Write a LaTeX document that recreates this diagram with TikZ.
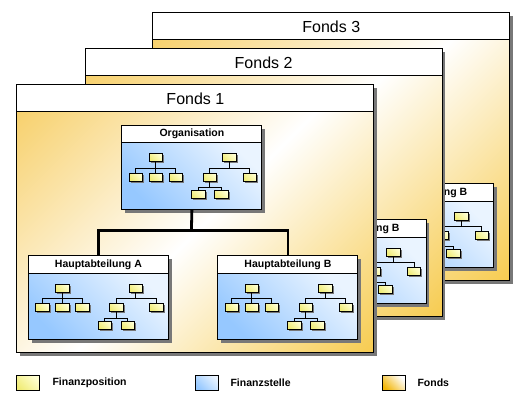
\documentclass[tikz,border=0pt]{standalone}
\usepackage{fontspec}
\setmainfont{Liberation Sans}
\usetikzlibrary{shadows}
\definecolor{fA}{RGB}{244,190,50}
\definecolor{fB}{RGB}{243,182,8}
\definecolor{bL}{RGB}{234,244,255}
\definecolor{bD}{RGB}{150,200,255}
\definecolor{yL}{RGB}{255,255,210}
\definecolor{yD}{RGB}{240,236,120}
\definecolor{shd}{RGB}{120,120,120}
\pgfdeclarehorizontalshading{fondsshade}{100bp}{color(0bp)=(fA); color(50bp)=(white); color(100bp)=(fB)}
\tikzset{
  fondsbody/.style={draw, line width=1pt, shading=fondsshade, shading angle=-45,
    minimum width=357pt, minimum height=241pt, inner sep=0pt, anchor=north west},
  fondshead/.style={draw, line width=1pt, fill=white, minimum width=357pt,
    minimum height=27pt, inner sep=0pt, anchor=north west, font=\fontsize{16}{18}\selectfont},
  fondsshadow/.style={fill=shd, minimum width=357pt, minimum height=268pt, inner sep=0pt, anchor=north west},
  abtbody/.style={draw, line width=1pt, left color=bL, right color=bD, shading angle=-45,
    minimum width=140pt, minimum height=66.5pt, inner sep=0pt, anchor=north west},
  abthead/.style={draw, line width=1pt, fill=white, minimum width=140pt,
    minimum height=17.5pt, inner sep=0pt, anchor=north west, font=\bfseries\fontsize{10.5}{12}\selectfont},
  abtshadow/.style={fill=shd, minimum width=140pt, minimum height=84pt, inner sep=0pt, anchor=north west},
  sbox/.style={draw, line width=0.8pt, left color=yL, right color=yD, shading angle=-45,
    minimum width=13.5pt, minimum height=8pt, inner sep=0pt,
    drop shadow={shadow xshift=1.5pt, shadow yshift=-1.5pt, fill=shd, opacity=1}},
  tline/.style={draw, line width=1pt},
  conn/.style={draw, line width=2.8pt, line join=miter},
  legbox/.style={draw, line width=1pt, minimum width=23pt, minimum height=15.4pt, inner sep=0pt},
  legtext/.style={anchor=west, inner sep=0pt, font=\bfseries\fontsize{10.5}{12}\selectfont},
}
\newcommand\minichart[1]{%
  \node[sbox] (#1a) at (34.5,33) {};
  \node[sbox] (#1a1) at (14.5,52.3) {};
  \node[sbox] (#1a2) at (34.5,52.3) {};
  \node[sbox] (#1a3) at (54.5,52.3) {};
  \node[sbox] (#1b) at (108,33) {};
  \node[sbox] (#1b1) at (88.5,52.3) {};
  \node[sbox] (#1b2) at (128.5,52.3) {};
  \node[sbox] (#1c1) at (77,70) {};
  \node[sbox] (#1c2) at (100,70) {};
  \draw[tline] (#1a.south) -- ++(0,6) -| (#1a1.north);
  \draw[tline] (#1a.south) -- ++(0,6) -| (#1a2.north);
  \draw[tline] (#1a.south) -- ++(0,6) -| (#1a3.north);
  \draw[tline] (#1b.south) -- ++(0,6) -| (#1b1.north);
  \draw[tline] (#1b.south) -- ++(0,6) -| (#1b2.north);
  \draw[tline] (#1b1.south) -- ++(0,6) -| (#1c1.north);
  \draw[tline] (#1b1.south) -- ++(0,6) -| (#1c2.north);
}
\newcommand\abtbox[4]{%
  \begin{scope}[shift={(#2,#3)}]
    \node[abtshadow] (#1s) at (3.5,3.5) {};
    \node[abtbody] (#1) at (0,17.5) {};
    \node[abthead] (#1h) at (0,0) {#4};
    \minichart{#1m}
  \end{scope}}
\newcommand\fondsbox[4]{%
  \begin{scope}[shift={(#2,#3)}]
    \node[fondsshadow] (#1s) at (3.5,3.5) {};
    \node[fondsbody] (#1) at (0,27) {};
    \node[fondshead] (#1h) at (0,0) {#4};
    \abtbox{#1org}{105}{40.5}{Organisation}
    \abtbox{#1ha}{11.5}{171}{Hauptabteilung A}
    \abtbox{#1hb}{201}{171}{Hauptabteilung B}
    \coordinate (#1j) at (175,146.5);
    \draw[conn] (#1org.south) -- (#1j);
    \draw[conn] (#1hah.north) |- (#1j) -| (#1hbh.north);
  \end{scope}}
\begin{document}
\begin{tikzpicture}[x=1pt, y=-1pt]
  \useasboundingbox[fill=white] (0,0) rectangle (527,407);
  \fondsbox{fiii}{152.3}{12.3}{Fonds 3}
  \fondsbox{fii}{84.6}{48.3}{Fonds 2}
  \fondsbox{fi}{16.4}{84.3}{Fonds 1}
  \node[legbox, left color=yL, right color=yD, shading angle=-45] (lp) at (27.8,383) {};
  \node[legtext] (lpt) at (52.3,383) {Finanzposition};
  \node[legbox, left color=bL, right color=bD, shading angle=-45] (ls) at (207.3,383) {};
  \node[legtext] (lst) at (230.3,383) {Finanzstelle};
  \node[legbox, left color=white, right color=fB, shading angle=-45] (lf) at (393.8,383) {};
  \node[legtext] (lft) at (417.3,383) {Fonds};
\end{tikzpicture}
\end{document}
